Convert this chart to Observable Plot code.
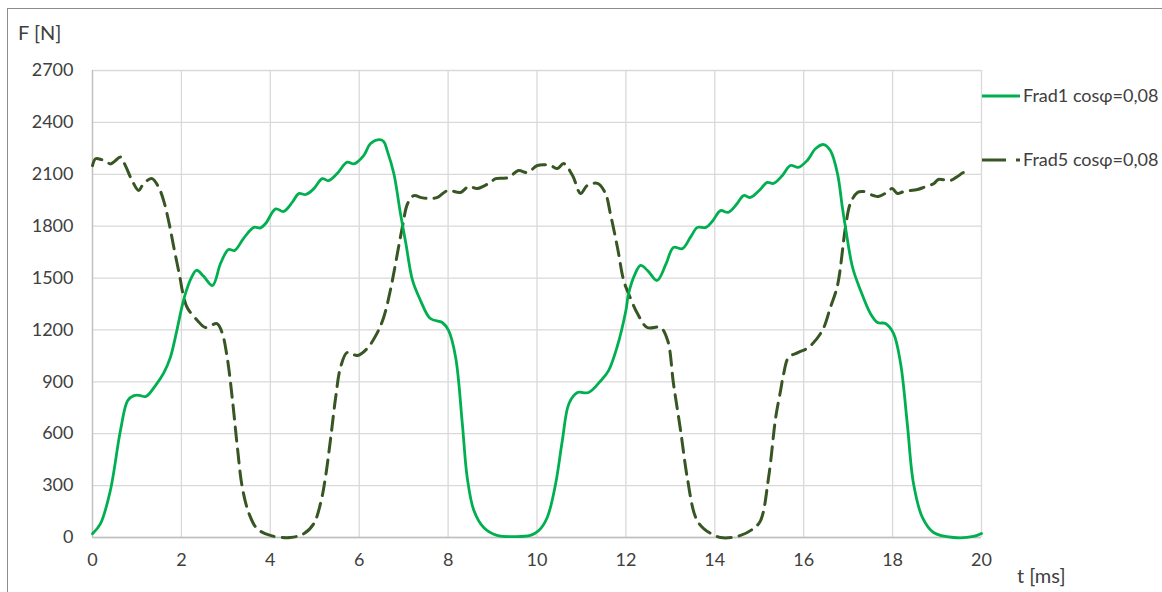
<!DOCTYPE html>
<html><head><meta charset="utf-8">
<script src="https://cdn.jsdelivr.net/npm/d3@7"></script>
<script src="https://cdn.jsdelivr.net/npm/@observablehq/plot@0.6"></script>
<style>
html,body{margin:0;padding:0;background:#fff;}
#wrap{position:relative;width:1162px;height:592px;overflow:hidden;font-family:Lato,"Liberation Sans",sans-serif;}
#frame{position:absolute;left:7px;top:8px;width:1200px;height:700px;border-top:1.5px solid #8c8c8c;border-left:1.5px solid #8c8c8c;}
#legend{position:absolute;left:0;top:0;}
.lab{position:absolute;font-size:20px;color:#404040;white-space:nowrap;}
</style></head>
<body><div id="wrap"><div id="frame"></div><div id="chart"></div>
<div class="lab" style="left:18px;top:20px;">F [N]</div>
<div class="lab" style="left:1017px;top:563px;">t [ms]</div>
<svg id="legend" width="1162" height="592"></svg>
</div>
<script>
const seriesNames = ["Frad1 cosφ=0,08", "Frad5 cosφ=0,08"];
const yTicks = [0,300,600,900,1200,1500,1800,2100,2400,2700];
const xTicks = [0,2,4,6,8,10,12,14,16,18,20];

const t1 = [0,0.18,0.4,0.63,0.79,0.93,1.05,1.2,1.42,1.6,1.75,1.9,2.0,2.09,2.22,2.34,2.5,2.7,2.88,3.06,3.2,3.4,3.63,3.78,3.9,4.12,4.3,4.5,4.64,4.8,4.98,5.17,5.31,5.5,5.73,5.88,6.1,6.25,6.44,6.55,6.63,6.78,6.93,7.05,7.2,7.38,7.6,7.87,8.01,8.17,8.32,8.43,8.58,8.8,9.1,9.5,9.85,10.04,10.23,10.42,10.57,10.72,10.91,11.16,11.43,11.61,11.8,12.0,12.06,12.2,12.33,12.5,12.7,12.9,13.07,13.27,13.45,13.61,13.8,13.95,14.13,14.3,14.5,14.65,14.8,15.0,15.18,15.32,15.52,15.7,15.88,16.08,16.27,16.45,16.6,16.76,16.87,16.94,17.1,17.28,17.5,17.66,17.84,18.02,18.18,18.33,18.47,18.67,18.92,19.37,19.82,20];
const f1 = [21,80,270,620,790,820,822,815,880,950,1040,1200,1320,1410,1500,1545,1510,1457,1584,1665,1660,1730,1793,1790,1817,1900,1885,1940,1988,1983,2017,2075,2063,2103,2170,2160,2208,2276,2300,2290,2237,2103,1870,1700,1486,1370,1266,1243,1197,1041,659,347,156,58,12,5,12,40,116,312,561,775,838,838,905,965,1100,1313,1410,1520,1573,1540,1486,1580,1677,1670,1735,1793,1793,1830,1890,1880,1930,1977,1966,2006,2053,2047,2093,2151,2140,2180,2249,2272,2237,2104,1908,1793,1561,1428,1295,1243,1237,1180,1006,659,312,116,29,0,6,23];

const t5 = [0,0.07,0.2,0.33,0.4,0.5,0.63,0.74,0.89,1.04,1.12,1.23,1.34,1.49,1.6,1.71,1.83,1.98,2.02,2.13,2.36,2.54,2.8,2.92,3.03,3.15,3.26,3.37,3.52,3.7,4.0,4.45,4.76,4.98,5.13,5.24,5.36,5.47,5.58,5.73,5.96,6.18,6.4,6.55,6.7,6.97,7.09,7.23,7.4,7.57,7.76,7.99,8.28,8.46,8.66,8.95,9.07,9.36,9.58,9.79,10.01,10.3,10.46,10.6,10.8,10.98,11.13,11.36,11.54,11.65,11.81,11.95,12.06,12.26,12.48,12.78,12.94,13.07,13.23,13.38,13.57,13.75,14.13,14.58,14.87,15.03,15.21,15.37,15.48,15.55,15.66,15.88,16.11,16.42,16.6,16.76,16.94,17.05,17.21,17.35,17.57,17.68,17.9,17.99,18.11,18.25,18.56,18.7,18.93,19.03,19.3,19.46,19.6,19.71];
const f5 = [2150,2190,2185,2170,2160,2175,2200,2150,2064,2006,2035,2064,2075,2024,1948,1833,1677,1486,1428,1330,1255,1214,1237,1180,1041,792,520,289,139,52,12,0,23,81,197,347,578,809,983,1070,1052,1093,1180,1272,1428,1793,1931,1977,1965,1960,1966,2006,1995,2029,2018,2053,2075,2081,2122,2110,2151,2151,2133,2162,2093,1989,2035,2047,1989,1873,1677,1486,1410,1295,1214,1214,1139,890,619,347,116,52,0,12,52,98,347,694,850,948,1041,1070,1099,1197,1330,1457,1793,1931,1995,2000,1977,1972,2000,2018,1989,2000,2012,2024,2047,2070,2064,2087,2110,2104];

const colors = ["#00b050", "#375623"];

const d1 = t1.map((t,i)=>({t, f:f1[i]}));
const d5 = t5.map((t,i)=>({t, f:f5[i]}));

const chart = Plot.plot({
  width: 1162, height: 592,
  marginLeft: 92, marginRight: 181, marginTop: 70, marginBottom: 55,
  style: {fontFamily: "Lato, 'Liberation Sans', sans-serif", fontSize: "18px", color: "#404040", background: "transparent"},
  x: {domain: [0,20], label: null},
  y: {domain: [0,2700], label: null},
  marks: [
    Plot.gridX(xTicks, {stroke: "#d9d9d9", strokeOpacity: 1, strokeWidth: 1.3}),
    Plot.gridY(yTicks, {stroke: "#d9d9d9", strokeOpacity: 1, strokeWidth: 1.3}),
    Plot.ruleY([0], {stroke: "#bfbfbf", strokeWidth: 1.3}),
    Plot.ruleX([0], {stroke: "#bfbfbf", strokeWidth: 1.3}),
    Plot.axisX({ticks: xTicks, tickSize: 0, tickPadding: 16, fill: "#404040", tickFormat: d => String(d)}),
    Plot.axisY({ticks: yTicks, tickSize: 0, tickPadding: 19, fill: "#404040", tickFormat: d => String(d)}),
    Plot.line(d5, {x: "t", y: "f", stroke: colors[1], strokeWidth: 3, strokeDasharray: "14,8", curve: "catmull-rom"}),
    Plot.line(d1, {x: "t", y: "f", stroke: colors[0], strokeWidth: 2.8, curve: "catmull-rom"})
  ]
});
document.getElementById("chart").appendChild(chart);

const lg = d3.select("#legend");
const rows = [{y: 96, dash: null}, {y: 160, dash: "24,10"}];
rows.forEach((r,i)=>{
  lg.append("line").attr("x1",982).attr("x2",1020).attr("y1",r.y).attr("y2",r.y)
    .attr("stroke",colors[i]).attr("stroke-width",3).attr("stroke-dasharray",r.dash);
  lg.append("text").attr("x",1023).attr("y",r.y+6).text(seriesNames[i])
    .attr("font-family","Lato, 'Liberation Sans', sans-serif").attr("font-size",18).attr("fill","#404040");
});
</script>
</body></html>
